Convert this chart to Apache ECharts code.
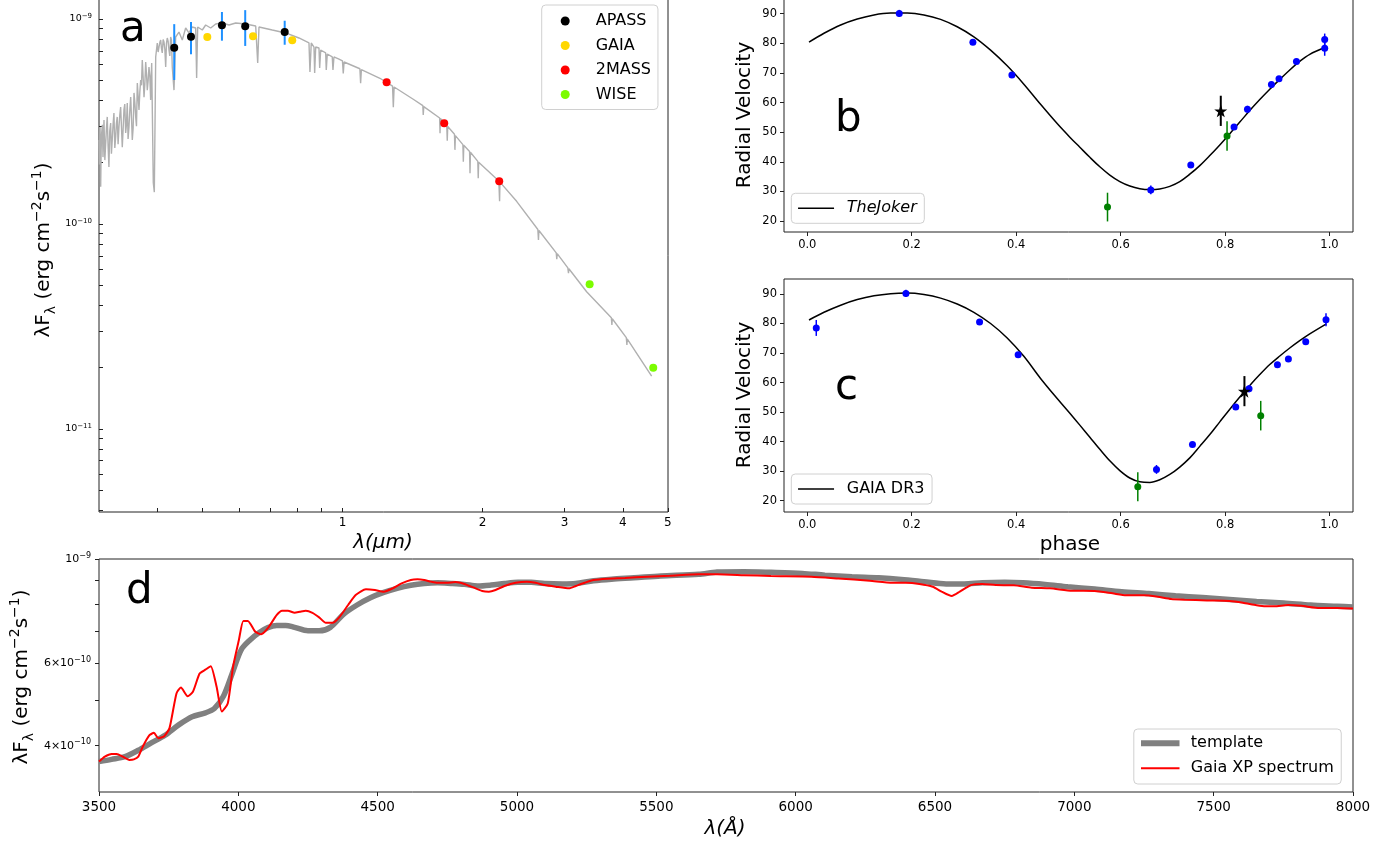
<!DOCTYPE html>
<html>
<head>
<meta charset="utf-8">
<script src="https://cdn.jsdelivr.net/npm/echarts@6/dist/echarts.min.js"></script>
<style>
  html, body { margin: 0; padding: 0; background: #ffffff; }
  #chart { width: 1395px; height: 848px; }
</style>
</head>
<body>
<div id="chart"></div>
<script>
// ---------- Panel a: spectral energy distribution (wavelength in micron, flux in 1e-10 erg cm^-2 s^-1) ----------
const sedModel = [
  [0.3000,2.57],[0.3007,1.95],[0.3015,2.97],[0.3020,2.60],[0.3025,1.52],[0.3032,2.30],[0.3040,2.78],[0.3050,3.05],
  [0.3060,2.12],[0.3068,2.70],[0.3075,3.22],[0.3088,2.05],[0.3101,2.48],[0.3113,2.95],[0.3125,3.33],[0.3138,2.40],
  [0.3151,1.90],[0.3164,2.85],[0.3178,3.11],[0.3190,2.20],[0.3203,2.57],[0.3216,3.05],[0.3230,3.48],[0.3244,2.35],
  [0.3258,2.66],[0.3270,3.10],[0.3283,3.33],[0.3297,2.45],[0.3311,2.97],[0.3325,3.40],[0.3339,3.72],[0.3352,3.00],
  [0.3366,2.37],[0.3380,2.90],[0.3394,3.60],[0.3408,3.85],[0.3423,2.78],[0.3436,3.05],[0.3450,3.89],[0.3464,2.60],
  [0.3479,2.97],[0.3494,3.60],[0.3509,4.16],[0.3523,3.30],[0.3537,2.57],[0.3552,2.95],[0.3567,4.36],[0.3582,3.90],
  [0.3597,3.33],[0.3611,3.00],[0.3626,4.87],[0.3641,4.20],[0.3656,3.60],[0.3671,4.40],[0.3687,5.04],[0.3701,4.75],
  [0.3716,6.31],[0.3732,5.20],[0.3748,4.16],[0.3763,4.80],[0.3779,6.17],[0.3794,5.40],[0.3809,4.50],[0.3825,5.00],
  [0.3841,5.83],[0.3857,5.30],[0.3873,4.03],[0.3883,5.10],[0.3893,6.10],[0.3924,1.59],[0.3944,1.43],[0.3971,6.53],
  [0.4002,7.64],[0.4019,6.90],[0.4036,7.30],[0.4053,7.70],[0.4070,7.90],[0.4086,7.20],[0.4102,6.83],[0.4120,7.95],
  [0.4137,7.72],[0.4155,7.10],[0.4172,5.83],[0.4188,7.60],[0.4205,8.08],[0.4222,7.80],[0.4240,7.06],[0.4258,6.60],
  [0.4276,8.17],[0.4293,7.90],[0.4310,5.83],[0.4347,4.50],[0.4383,8.17],[0.4455,8.64],[0.4529,7.90],[0.4605,9.04],
  [0.4681,8.55],[0.4758,9.14],[0.4839,9.04],[0.4862,5.16],[0.4887,9.14],[0.5000,8.84],[0.5084,9.35],[0.5212,9.04],
  [0.5343,9.45],[0.5518,9.56],[0.5706,9.35],[0.5897,9.56],[0.6196,9.45],[0.6511,9.24],[0.6576,6.10],[0.6618,9.14],
  [0.7068,8.84],[0.7551,8.55],[0.8064,8.08],[0.8474,7.64],[0.8515,5.51],[0.8570,7.64],[0.8686,7.30],[0.8716,5.45],
  [0.8760,7.30],[0.8903,7.22],[0.8934,5.77],[0.8979,7.06],[0.9203,6.83],[0.9230,5.64],[0.9277,6.75],[0.9508,6.53],
  [0.9541,5.64],[0.9588,6.53],[0.9829,6.38],[1.000,6.25],[1.004,5.43],[1.008,6.17],[1.090,5.72],[1.094,4.86],
  [1.098,5.66],[1.2036,5.14],[1.281,4.71],[1.286,3.71],[1.291,4.66],[1.4191,4.06],[1.488,3.78],[1.491,3.40],
  [1.495,3.74],[1.617,3.29],[1.620,2.77],[1.623,3.27],[1.675,3.03],[1.679,2.55],[1.683,2.99],[1.740,2.74],
  [1.744,2.30],[1.748,2.70],[1.814,2.44],[1.818,2.01],[1.822,2.42],[1.875,2.26],[1.879,1.77],[1.883,2.24],
  [1.953,2.02],[1.957,1.67],[1.961,2.00],[2.167,1.62],[2.175,1.29],[2.179,1.60],[2.3664,1.29],[2.628,0.94],
  [2.636,0.835],[2.642,0.93],[2.878,0.723],[2.886,0.673],[2.892,0.717],[3.048,0.611],[3.058,0.575],[3.064,0.605],
  [3.345,0.467],[3.780,0.349],[3.790,0.322],[3.797,0.345],[4.070,0.279],[4.082,0.257],[4.088,0.275],[4.613,0.181]
];
// photometry: [wavelength, flux, error]
const apassPhot = [[0.4352,7.24,2.20],[0.4728,8.20,1.47],[0.5510,9.33,1.49],[0.6182,9.22,1.83],[0.7515,8.65,1.16]];
const gaiaPhot  = [[0.5125,8.17],[0.6425,8.23],[0.7801,7.87]];
const tmassPhot = [[1.244,4.91],[1.654,3.10],[2.171,1.616]];
const wisePhot  = [[3.395,0.508],[4.65,0.199]];

const sedTicksX  = [0.4,0.5,0.6,0.7,0.8,0.9,1,2,3,4,5];
const sedLabelsX = [1,2,3,4,5];
const sedTicksY  = [4e-12,5e-12,6e-12,7e-12,8e-12,9e-12,1e-11,2e-11,3e-11,4e-11,5e-11,6e-11,7e-11,8e-11,9e-11,
                    1e-10,2e-10,3e-10,4e-10,5e-10,6e-10,7e-10,8e-10,9e-10,1e-9];
const sedLabelsY = [1e-11,1e-10,1e-9];

// ---------- Panels b, c: radial velocity vs phase ----------
const jokerCurve = [
  [0.0033,80.4],[0.032,83.4],[0.0639,86.2],[0.0957,88.2],[0.1277,89.6],[0.1596,90.2],[0.1914,90.2],[0.2234,89.6],
  [0.2553,88.1],[0.2871,85.6],[0.319,82.2],[0.351,77.7],[0.3828,72.4],[0.4147,66.2],[0.4467,59.4],[0.4785,52.9],
  [0.5028,48.3],[0.5219,44.9],[0.5411,41.5],[0.5602,38.3],[0.5793,35.5],[0.5985,33.3],[0.6176,31.8],[0.6368,30.9],
  [0.6559,30.6],[0.675,30.8],[0.6942,31.7],[0.7133,33.3],[0.7325,35.8],[0.7516,38.7],[0.7708,42.1],[0.7899,45.7],
  [0.8091,49.5],[0.8282,53.4],[0.8473,57.3],[0.8665,61.0],[0.8856,64.5],[0.9048,67.8],[0.9239,71.0],[0.943,73.9],
  [0.9622,76.3],[0.9908,78.6]
];
const jokerBlue  = [[0.1761,90.1,1.2],[0.3171,80.4,0.8],[0.3918,69.3,0.8],[0.6578,30.5,1.5],[0.7344,38.9,0.8],
                    [0.8172,51.7,0.9],[0.8429,57.7,1.2],[0.8888,66.1,0.8],[0.9033,68.0,0.8],[0.9367,73.9,0.8],
                    [0.9908,81.3,2.0],[0.9908,78.3,2.5]];
const jokerGreen = [[0.5749,24.7,4.85],[0.8038,48.7,5.0]];
const jokerStar  = [[0.7918,57.2,5.1]];

const dr3Curve = [
  [0.0033,81.2],[0.032,83.8],[0.0639,86.2],[0.0957,88.1],[0.1277,89.4],[0.1596,90.1],[0.1914,90.3],[0.2234,89.8],
  [0.2553,88.6],[0.2871,86.6],[0.319,83.8],[0.351,80.0],[0.3828,75.1],[0.4147,68.9],[0.4467,61.4],[0.4785,54.6],
  [0.5028,49.6],[0.5219,45.6],[0.5411,41.5],[0.5602,37.4],[0.5793,33.5],[0.5985,30.2],[0.6176,27.7],[0.6368,26.4],
  [0.6559,26.2],[0.675,27.1],[0.6942,28.9],[0.7133,31.4],[0.7325,34.5],[0.7516,38.4],[0.7708,42.4],[0.7899,46.7],
  [0.8091,51.0],[0.8282,55.1],[0.8473,59.0],[0.8665,62.7],[0.8856,66.1],[0.9048,69.0],[0.9239,71.7],[0.943,74.2],
  [0.9622,76.5],[0.9941,79.9]
];
const dr3Blue  = [[0.0172,78.5,2.7],[0.1889,90.2,1.2],[0.3299,80.5,0.8],[0.4038,69.4,0.8],[0.6687,30.6,1.5],
                  [0.7376,39.0,0.8],[0.8205,51.7,0.9],[0.8459,57.9,1.2],[0.9003,66.0,0.8],[0.9213,68.0,0.8],
                  [0.9545,73.8,0.8],[0.9933,81.3,2.2]];
const dr3Green = [[0.6329,24.7,4.9],[0.8683,48.8,5.0]];
const dr3Star  = [[0.8371,57.1,5.1]];

const phaseTicks = [0, 0.2, 0.4, 0.6, 0.8, 1.0];
const rvTicks    = [20, 30, 40, 50, 60, 70, 80, 90];

// ---------- Panel d: template vs Gaia XP spectrum (wavelength in Angstrom, flux in 1e-10) ----------
const templateSpec = [
  [3500,3.70],[3545,3.74],[3593,3.79],[3641,3.91],[3689,4.06],[3737,4.21],[3786,4.43],[3834,4.61],[3882,4.70],
  [3914,4.80],[3946,5.09],[3978,5.70],[4010,6.40],[4042,6.72],[4074,6.96],[4106,7.14],[4138,7.22],[4170,7.22],
  [4202,7.15],[4250,7.03],[4290,7.03],[4330,7.15],[4378,7.63],[4426,7.98],[4474,8.27],[4522,8.49],[4570,8.66],
  [4619,8.79],[4667,8.87],[4715,8.90],[4763,8.87],[4811,8.83],[4859,8.76],[4907,8.80],[4955,8.87],[5003,8.92],
  [5051,8.92],[5099,8.87],[5163,8.85],[5211,8.87],[5275,8.99],[5339,9.06],[5420,9.12],[5516,9.20],[5652,9.28],
  [5718,9.38],[5814,9.40],[5911,9.37],[6024,9.32],[6105,9.24],[6202,9.17],[6298,9.12],[6379,9.05],[6460,8.95],
  [6540,8.85],[6605,8.85],[6670,8.90],[6750,8.92],[6815,8.90],[6895,8.83],[6976,8.73],[7073,8.63],[7170,8.52],
  [7267,8.44],[7363,8.35],[7460,8.28],[7557,8.20],[7654,8.12],[7751,8.06],[7848,7.98],[7944,7.93],[8000,7.90]
];
const xpSpec = [
  [3500,3.70],[3521,3.79],[3545,3.84],[3564,3.84],[3585,3.79],[3609,3.73],[3625,3.74],[3641,3.79],[3657,3.98],
  [3681,4.21],[3697,4.26],[3713,4.15],[3734,4.19],[3753,4.36],[3778,5.17],[3794,5.32],[3818,5.10],[3837,5.21],
  [3861,5.70],[3882,5.81],[3901,5.91],[3922,5.34],[3941,4.73],[3962,4.92],[3981,5.89],[4002,6.72],[4018,7.38],
  [4034,7.38],[4061,7.00],[4082,6.91],[4106,7.12],[4138,7.60],[4157,7.76],[4178,7.76],[4202,7.68],[4221,7.72],
  [4242,7.76],[4266,7.68],[4290,7.51],[4314,7.31],[4338,7.31],[4362,7.51],[4394,7.98],[4421,8.38],[4458,8.62],
  [4490,8.59],[4522,8.52],[4554,8.66],[4586,8.87],[4619,9.02],[4643,9.05],[4667,9.02],[4691,8.95],[4715,8.90],
  [4747,8.90],[4779,8.93],[4811,8.85],[4843,8.70],[4875,8.55],[4899,8.52],[4923,8.59],[4955,8.76],[4995,8.90],
  [5035,8.95],[5067,8.90],[5099,8.80],[5139,8.73],[5187,8.66],[5211,8.76],[5243,8.90],[5275,9.02],[5323,9.08],
  [5388,9.11],[5468,9.17],[5548,9.21],[5652,9.28],[5718,9.28],[5814,9.24],[5911,9.20],[6056,9.17],[6153,9.09],
  [6266,8.99],[6347,8.90],[6395,8.90],[6444,8.85],[6492,8.73],[6524,8.52],[6560,8.34],[6589,8.52],[6629,8.80],
  [6670,8.85],[6718,8.80],[6783,8.79],[6847,8.69],[6912,8.66],[6992,8.56],[7073,8.55],[7137,8.45],[7186,8.37],
  [7250,8.37],[7299,8.31],[7347,8.22],[7396,8.19],[7476,8.16],[7557,8.14],[7605,8.07],[7654,7.97],[7686,7.93],
  [7718,7.93],[7767,7.98],[7815,7.95],[7880,7.86],[7944,7.86],[8000,7.84]
];
const specTicksY  = [4e-10,5e-10,6e-10,7e-10,8e-10,9e-10,1e-9];
const specLabelsY = [4e-10,6e-10,1e-9];

// ---------- helpers ----------
const FONT = "'DejaVu Sans', 'Noto Sans', sans-serif";
const E10 = 1e-10;
const toFlux = (arr) => arr.map(p => [p[0], p[1] * E10].concat(p.length > 2 ? [p[2] * E10] : []));

function powerLabel(v) {
  const e = Math.round(Math.log10(v));
  return '{b|10}{s|\u2212' + (-e) + '}';
}
function mantissaLabel(v) {
  const e = Math.floor(Math.log10(v) + 1e-9);
  const m = Math.round(v / Math.pow(10, e));
  return m === 1 ? '{b|10}{s|\u2212' + (-e) + '}' : '{b|' + m + '\u00d710}{s|\u2212' + (-e) + '}';
}

function errorBars(color, width, xi, yi, data, z) {
  return {
    type: 'custom', xAxisIndex: xi, yAxisIndex: yi, data: data, z: z || 2, silent: true,
    encode: { x: 0, y: 1 },
    renderItem: function (params, api) {
      const x = api.value(0), y = api.value(1), e = api.value(2);
      const lo = api.coord([x, y - e]);
      const hi = api.coord([x, y + e]);
      return { type: 'line', shape: { x1: lo[0], y1: lo[1], x2: hi[0], y2: hi[1] },
               style: { stroke: color, lineWidth: width } };
    }
  };
}
function scatter(name, color, size, xi, yi, data, symbol, z) {
  return { type: 'scatter', name: name, xAxisIndex: xi, yAxisIndex: yi, data: data.map(p => [p[0], p[1]]),
           symbol: symbol || 'circle', symbolSize: size, itemStyle: { color: color, opacity: 1 },
           z: z || 3, silent: true };
}

const tickStyle = { color: '#222', width: 1 };
const noLine = { show: false, onZero: false };
const gridBase = { show: true, borderColor: '#222', borderWidth: 1, backgroundColor: 'transparent',
                   containLabel: false, outerBoundsMode: 'none' };
const smallRich = {
  b: { fontSize: 9.5, fontFamily: FONT, color: '#000', lineHeight: 13 },
  s: { fontSize: 7, fontFamily: FONT, color: '#000', lineHeight: 7, verticalAlign: 'top' }
};
const dRich = {
  b: { fontSize: 11, fontFamily: FONT, color: '#000', lineHeight: 15 },
  s: { fontSize: 8, fontFamily: FONT, color: '#000', lineHeight: 8, verticalAlign: 'top' }
};
const starPath = 'path://M50,0 L61.8,35.1 L97.6,35.1 L68.8,56.7 L79.4,90.5 L50,69.9 L20.6,90.5 L31.2,56.7 L2.4,35.1 L38.2,35.1 Z';

function phaseAxis(gi) {
  return { type: 'value', gridIndex: gi, min: -0.0446, max: 1.045,
    axisLine: noLine, splitLine: { show: false },
    axisTick: { show: true, length: 4, customValues: phaseTicks, lineStyle: tickStyle },
    axisLabel: { customValues: phaseTicks, formatter: v => v.toFixed(1), fontSize: 11.5, fontFamily: FONT,
                 color: '#000', margin: 7 } };
}
function rvAxis(gi, lo, hi) {
  return { type: 'value', gridIndex: gi, min: lo, max: hi,
    axisLine: noLine, splitLine: { show: false },
    axisTick: { show: true, length: 4, customValues: rvTicks, lineStyle: tickStyle },
    axisLabel: { customValues: rvTicks, formatter: v => String(Math.round(v)), fontSize: 11.5, fontFamily: FONT,
                 color: '#000', margin: 7 } };
}
function boxLegend(extra) {
  return Object.assign({
    orient: 'vertical', selectedMode: false,
    backgroundColor: 'rgba(255,255,255,0.8)', borderColor: '#d0d0d0', borderWidth: 1, borderRadius: 4,
    textStyle: { fontSize: 16, fontFamily: FONT, color: '#000', lineHeight: 16 }
  }, extra);
}

const option = {
  animation: false,
  backgroundColor: '#ffffff',
  grid: [
    Object.assign({ left: 99, top: -1, width: 569, height: 513 }, gridBase),
    Object.assign({ left: 784, top: -1, width: 569, height: 233 }, gridBase),
    Object.assign({ left: 784, top: 279, width: 569, height: 233 }, gridBase),
    Object.assign({ left: 99, top: 559, width: 1254, height: 233 }, gridBase)
  ],
  xAxis: [
    { type: 'log', logBase: 10, gridIndex: 0, min: 0.3, max: 5.002,
      axisLine: noLine, splitLine: { show: false },
      axisTick: { show: true, inside: true, length: 4, customValues: sedTicksX, lineStyle: tickStyle },
      axisLabel: { customValues: sedLabelsX, formatter: v => String(Math.round(v)), fontSize: 12,
                   fontFamily: FONT, color: '#000', margin: 5 } },
    phaseAxis(1),
    phaseAxis(2),
    { type: 'value', gridIndex: 3, min: 3500, max: 8000, interval: 500,
      axisLine: noLine, splitLine: { show: false },
      axisTick: { show: true, length: 4, lineStyle: tickStyle },
      axisLabel: { formatter: v => String(v), fontSize: 13.5, fontFamily: FONT, color: '#000', margin: 8 } }
  ],
  yAxis: [
    { type: 'log', logBase: 10, gridIndex: 0, min: 3.936e-12, max: 1.2521e-9,
      axisLine: noLine, splitLine: { show: false },
      axisTick: { show: true, inside: true, length: 4, customValues: sedTicksY, lineStyle: tickStyle },
      axisLabel: { customValues: sedLabelsY, formatter: powerLabel, rich: smallRich, margin: 7 } },
    rvAxis(1, 16.28, 94.97),
    rvAxis(2, 16.18, 95.07),
    { type: 'log', logBase: 10, gridIndex: 3, min: 3.186e-10, max: 1.0002e-9,
      axisLine: noLine, splitLine: { show: false },
      axisTick: { show: true, length: 4, customValues: specTicksY, lineStyle: tickStyle },
      axisLabel: { customValues: specLabelsY, formatter: mantissaLabel, rich: dRich, margin: 8 } }
  ],
  legend: [
    boxLegend({ data: ['APASS', 'GAIA', '2MASS', 'WISE'], left: 541.7, top: 5, padding: [8, 7, 7, 19],
      icon: 'circle', itemWidth: 9, itemHeight: 9, itemGap: 8.5,
      textStyle: { fontSize: 16, fontFamily: FONT, color: '#000', lineHeight: 16, padding: [0, 0, 0, 21] } }),
    boxLegend({ data: ['TheJoker'], left: 791.3, top: 193.3, padding: [7, 7.6, 7, 6],
      itemWidth: 36, itemHeight: 14, lineStyle: { width: 1.5 }, itemStyle: { opacity: 0 },
      textStyle: { fontSize: 16, fontFamily: FONT, fontStyle: 'italic', color: '#000', lineHeight: 16,
                   padding: [0, 0, 0, 7.7] } }),
    boxLegend({ data: ['GAIA DR3'], left: 791.3, top: 474, padding: [7, 7.6, 7, 6],
      itemWidth: 36, itemHeight: 14, lineStyle: { width: 1.5 }, itemStyle: { opacity: 0 },
      textStyle: { fontSize: 16, fontFamily: FONT, color: '#000', lineHeight: 16, padding: [0, 0, 0, 7.7] } }),
    boxLegend({ data: [{ name: 'template', lineStyle: { width: 6 } },
                       { name: 'Gaia XP spectrum', lineStyle: { width: 2 } }],
      left: 1133.8, top: 729, padding: [6.3, 7.5, 7.7, 4.2], itemWidth: 38.5, itemHeight: 14, itemGap: 9,
      itemStyle: { opacity: 0 },
      textStyle: { fontSize: 16, fontFamily: FONT, color: '#000', lineHeight: 16, padding: [0, 0, 0, 6.3] } })
  ],
  series: [
    // panel a
    { type: 'line', name: 'model', xAxisIndex: 0, yAxisIndex: 0, data: toFlux(sedModel), symbol: 'none',
      lineStyle: { color: '#b0b0b0', width: 1.4 }, z: 1, silent: true },
    errorBars('#1e90ff', 2, 0, 0, toFlux(apassPhot), 2),
    scatter('APASS', '#000000', 8, 0, 0, toFlux(apassPhot)),
    scatter('GAIA', '#ffd700', 8, 0, 0, toFlux(gaiaPhot)),
    scatter('2MASS', '#ff0000', 8, 0, 0, toFlux(tmassPhot)),
    scatter('WISE', '#7cfc00', 8, 0, 0, toFlux(wisePhot)),
    // panel b
    { type: 'line', name: 'TheJoker', xAxisIndex: 1, yAxisIndex: 1, data: jokerCurve, symbol: 'none',
      smooth: 0.35,
      lineStyle: { color: '#000', width: 1.5 }, itemStyle: { color: '#000' }, z: 2, silent: true },
    errorBars('#0000ff', 1.5, 1, 1, jokerBlue, 3),
    errorBars('#008000', 1.5, 1, 1, jokerGreen, 3),
    errorBars('#000000', 2, 1, 1, jokerStar, 3),
    scatter('b-blue', '#0000ff', 7, 1, 1, jokerBlue, null, 4),
    scatter('b-green', '#008000', 7, 1, 1, jokerGreen, null, 4),
    scatter('b-star', '#000000', 13, 1, 1, jokerStar, starPath, 4),
    // panel c
    { type: 'line', name: 'GAIA DR3', xAxisIndex: 2, yAxisIndex: 2, data: dr3Curve, symbol: 'none',
      smooth: 0.35,
      lineStyle: { color: '#000', width: 1.5 }, itemStyle: { color: '#000' }, z: 2, silent: true },
    errorBars('#0000ff', 1.5, 2, 2, dr3Blue, 3),
    errorBars('#008000', 1.5, 2, 2, dr3Green, 3),
    errorBars('#000000', 2, 2, 2, dr3Star, 3),
    scatter('c-blue', '#0000ff', 7, 2, 2, dr3Blue, null, 4),
    scatter('c-green', '#008000', 7, 2, 2, dr3Green, null, 4),
    scatter('c-star', '#000000', 13, 2, 2, dr3Star, starPath, 4),
    // panel d
    { type: 'line', name: 'template', xAxisIndex: 3, yAxisIndex: 3, data: toFlux(templateSpec), symbol: 'none',
      smooth: 0.3, lineStyle: { color: '#808080', width: 5.5 }, itemStyle: { color: '#808080' }, z: 1, silent: true },
    { type: 'line', name: 'Gaia XP spectrum', xAxisIndex: 3, yAxisIndex: 3, data: toFlux(xpSpec), symbol: 'none',
      smooth: 0.2, lineStyle: { color: '#ff0000', width: 2 }, itemStyle: { color: '#ff0000' }, z: 2, silent: true }
  ],
  graphic: [
    // panel letters
    { type: 'text', x: 120, y: 30, style: { text: 'a', fontSize: 42, fontFamily: FONT, fill: '#000',
      align: 'left', verticalAlign: 'middle', textAlign: 'left', textVerticalAlign: 'middle' } },
    { type: 'text', x: 835, y: 120, style: { text: 'b', fontSize: 42, fontFamily: FONT, fill: '#000',
      align: 'left', verticalAlign: 'middle', textAlign: 'left', textVerticalAlign: 'middle' } },
    { type: 'text', x: 835, y: 388, style: { text: 'c', fontSize: 42, fontFamily: FONT, fill: '#000',
      align: 'left', verticalAlign: 'middle', textAlign: 'left', textVerticalAlign: 'middle' } },
    { type: 'text', x: 126, y: 592, style: { text: 'd', fontSize: 42, fontFamily: FONT, fill: '#000',
      align: 'left', verticalAlign: 'middle', textAlign: 'left', textVerticalAlign: 'middle' } },
    // axis titles
    { type: 'text', x: 44, y: 250, rotation: Math.PI / 2, style: {
      text: '{m|\u03bbF}{s|\u03bb}{m| (erg cm}{p|\u22122}{m|s}{p|\u22121}{m|)}',
      align: 'center', verticalAlign: 'middle', textAlign: 'center', textVerticalAlign: 'middle',
      rich: { m: { fontSize: 20, fontFamily: FONT, fill: '#000', lineHeight: 28 },
              s: { fontSize: 14, fontFamily: FONT, fill: '#000', lineHeight: 16, verticalAlign: 'bottom' },
              p: { fontSize: 14, fontFamily: FONT, fill: '#000', lineHeight: 14, verticalAlign: 'top' } } } },
    { type: 'text', x: 22, y: 677, rotation: Math.PI / 2, style: {
      text: '{m|\u03bbF}{s|\u03bb}{m| (erg cm}{p|\u22122}{m|s}{p|\u22121}{m|)}',
      align: 'center', verticalAlign: 'middle', textAlign: 'center', textVerticalAlign: 'middle',
      rich: { m: { fontSize: 20, fontFamily: FONT, fill: '#000', lineHeight: 28 },
              s: { fontSize: 14, fontFamily: FONT, fill: '#000', lineHeight: 16, verticalAlign: 'bottom' },
              p: { fontSize: 14, fontFamily: FONT, fill: '#000', lineHeight: 14, verticalAlign: 'top' } } } },
    { type: 'text', x: 383, y: 543, style: { text: '\u03bb(\u03bcm)', fontSize: 20, fontStyle: 'italic',
      fontFamily: FONT, fill: '#000', align: 'center', verticalAlign: 'middle', textAlign: 'center',
      textVerticalAlign: 'middle' } },
    { type: 'text', x: 725, y: 829, style: { text: '\u03bb(\u00c5)', fontSize: 20, fontStyle: 'italic',
      fontFamily: FONT, fill: '#000', align: 'center', verticalAlign: 'middle', textAlign: 'center',
      textVerticalAlign: 'middle' } },
    { type: 'text', x: 1070, y: 545, style: { text: 'phase', fontSize: 20, fontFamily: FONT, fill: '#000',
      align: 'center', verticalAlign: 'middle', textAlign: 'center', textVerticalAlign: 'middle' } },
    { type: 'text', x: 745, y: 115, rotation: Math.PI / 2, style: { text: 'Radial Velocity', fontSize: 20,
      fontFamily: FONT, fill: '#000', align: 'center', verticalAlign: 'middle', textAlign: 'center',
      textVerticalAlign: 'middle' } },
    { type: 'text', x: 745, y: 395, rotation: Math.PI / 2, style: { text: 'Radial Velocity', fontSize: 20,
      fontFamily: FONT, fill: '#000', align: 'center', verticalAlign: 'middle', textAlign: 'center',
      textVerticalAlign: 'middle' } }
  ]
};

const chart = echarts.init(document.getElementById('chart'), null, { renderer: 'canvas', width: 1395, height: 848 });
chart.setOption(option);
</script>
</body>
</html>
